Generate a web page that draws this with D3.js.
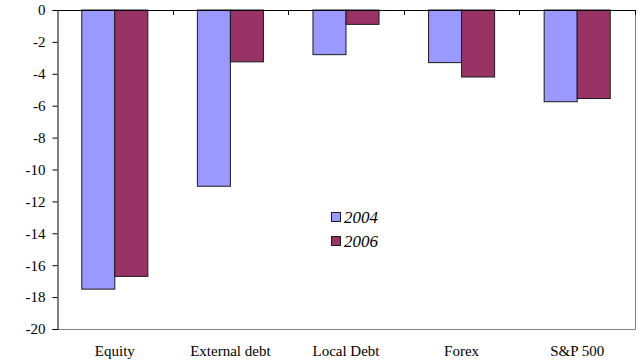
<!DOCTYPE html>
<html>
<head>
<meta charset="utf-8">
<script src="https://cdn.jsdelivr.net/npm/d3@7/dist/d3.min.js"></script>
<style>
  html, body { margin: 0; padding: 0; background: #fff; }
  svg { display: block; }
  svg text { font-family: "Liberation Serif", "Times New Roman", Times, "DejaVu Serif", serif !important; }
</style>
</head>
<body>
<svg id="chart" width="641" height="360"></svg>
<script>
// Categories and series values
const categories = ["Equity", "External debt", "Local Debt", "Forex", "S&P 500"];
const seriesNames = ["2004", "2006"];
const values2004 = [-17.5, -11.05, -2.8, -3.3, -5.75];
const values2006 = [-16.7, -3.25, -0.9, -4.2, -5.55];
const yTicks = [0, -2, -4, -6, -8, -10, -12, -14, -16, -18, -20];
const colors = ["#9999FF", "#993366"];

const svg = d3.select("#chart");
const plotL = 57, plotR = 635, plotT = 10, plotB = 329;

const x = d3.scaleBand().domain(categories).range([plotL, plotR]).paddingInner(0).paddingOuter(0);
const y = d3.scaleLinear().domain([0, -20]).range([plotT, plotB]);

// Each category holds two bars with a 150% gap between groups
const bw = x.bandwidth() / 3.5;
const xs = d3.scaleBand().domain(seriesNames).range([0.75 * bw, 2.75 * bw]);

const rows = categories.map((c, i) => ({ cat: c, vals: [values2004[i], values2006[i]] }));

// Plot frame: grey right and bottom edges
svg.append("line").attr("x1", plotR + 0.5).attr("x2", plotR + 0.5).attr("y1", plotT).attr("y2", plotB + 0.5)
  .attr("stroke", "#808080").attr("stroke-width", 1);
svg.append("line").attr("x1", plotL).attr("x2", plotR + 0.5).attr("y1", plotB + 0.5).attr("y2", plotB + 0.5)
  .attr("stroke", "#808080").attr("stroke-width", 1);

// Bars
const g = svg.append("g");
rows.forEach(r => {
  r.vals.forEach((v, j) => {
    g.append("rect")
      .attr("x", x(r.cat) + xs(seriesNames[j]))
      .attr("y", y(0))
      .attr("width", xs.bandwidth())
      .attr("height", y(v) - y(0))
      .attr("fill", colors[j])
      .attr("stroke", "#1a1a1a")
      .attr("stroke-width", 1);
  });
});

// Y axis
const yAxis = d3.axisLeft(y).tickValues(yTicks).tickFormat(d => d === 0 ? "0" : "-" + Math.abs(d)).tickSize(5).tickPadding(7);
const ya = svg.append("g").attr("transform", `translate(${plotL + 0.5},0)`).call(yAxis);
ya.select(".domain").attr("stroke", "#000");
ya.selectAll(".tick line").attr("stroke", "#000");
ya.selectAll("text").attr("font-size", 15).attr("fill", "#000");

// Category axis along the zero line, ticks separating categories
const sep = d3.range(categories.length + 1).map(i => plotL + i * x.step());
const xa = svg.append("g");
xa.append("line").attr("x1", plotL).attr("x2", plotR + 0.5).attr("y1", y(0) + 0.5).attr("y2", y(0) + 0.5)
  .attr("stroke", "#000");
xa.selectAll("line.sep").data(sep.slice(1)).join("line").attr("class", "sep")
  .attr("x1", d => Math.round(d) + 0.5).attr("x2", d => Math.round(d) + 0.5)
  .attr("y1", y(0) + 0.5).attr("y2", y(0) + 5)
  .attr("stroke", "#000");

// Category labels below the plot
svg.append("g").selectAll("text").data(categories).join("text")
  .attr("x", d => x(d) + x.bandwidth() / 2)
  .attr("y", 356)
  .attr("text-anchor", "middle")
  .attr("font-size", 15)
  .attr("fill", "#000")
  .text(d => d);

// Legend
const leg = svg.append("g").attr("transform", "translate(331,212)");
seriesNames.forEach((s, i) => {
  const row = leg.append("g").attr("transform", `translate(0,${i * 24})`);
  row.append("rect").attr("x", 0.5).attr("y", 0.5).attr("width", 9).attr("height", 9)
    .attr("fill", colors[i]).attr("stroke", "#1a1a1a");
  row.append("text").attr("x", 13).attr("y", 10.5).attr("font-size", 17).attr("font-style", "italic")
    .attr("fill", "#000").text(s);
});
</script>
</body>
</html>
